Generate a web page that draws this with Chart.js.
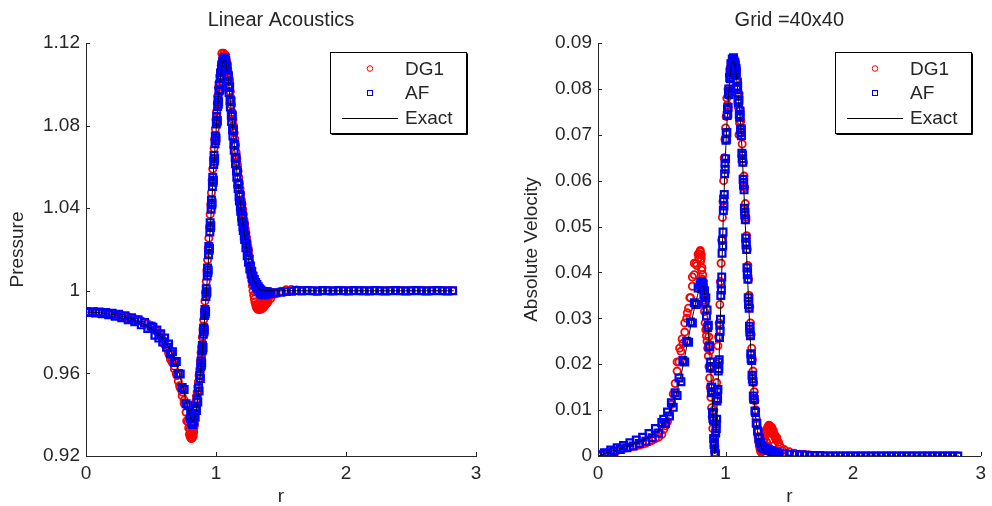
<!DOCTYPE html>
<html><head><meta charset="utf-8">
<script src="https://cdn.jsdelivr.net/npm/chart.js"></script>
<style>
html,body{margin:0;padding:0;background:#fff;}
#wrap{position:relative;width:992px;height:506px;overflow:hidden;}
.box{position:absolute;top:0;width:496px;height:506px;}
</style></head><body>
<div id="wrap">
<div class="box" style="left:0"><canvas id="c1" width="496" height="506"></canvas></div>
<div class="box" style="left:496px"><canvas id="c2" width="496" height="506"></canvas></div>
</div>
<script>
// ---------- data ----------
const radius = [0,0.025,0.05,0.075,0.1,0.125,0.15,0.175,0.2,0.225,0.25,0.275,0.3,0.325,0.35,0.375,0.4,0.425,0.45,0.475,0.5,
0.515,0.53,0.545,0.56,0.575,0.59,0.605,0.62,0.635,0.65,0.665,0.68,0.695,0.71,0.725,0.74,0.755,0.77,0.785,
0.8,0.805,0.81,0.815,0.82,0.825,0.83,0.835,0.84,0.845,
0.85,0.855,0.86,0.865,0.87,0.875,0.88,0.885,0.89,0.895,
0.9,0.905,0.91,0.915,0.92,0.925,0.93,0.935,0.94,0.945,
0.95,0.955,0.96,0.965,0.97,0.975,0.98,0.985,0.99,0.995,
1,1.005,1.01,1.015,1.02,1.025,1.03,1.035,1.04,1.045,
1.05,1.055,1.06,1.065,1.07,1.075,1.08,1.085,1.09,1.095,
1.1,1.105,1.11,1.115,1.12,1.125,1.13,1.135,1.14,1.145,
1.15,1.155,1.16,1.165,1.17,1.175,1.18,1.185,1.19,1.195,
1.2,1.205,1.21,1.215,1.22,1.225,1.23,1.235,1.24,1.245,
1.25,1.255,1.26,1.265,1.27,1.275,1.28,1.285,1.29,1.295,
1.3,1.305,1.31,1.315,1.32,1.325,1.33,1.335,1.34,1.345,
1.35,1.355,1.36,1.365,1.37,1.375,1.38,1.385,1.39,1.395,
1.4,
1.42,1.46,1.5,1.54,1.58,1.62,1.66,1.7,1.74,1.78,
1.82,1.86,1.9,1.94,1.98,2.02,2.06,2.1,2.14,2.18,
2.22,2.26,2.3,2.34,2.38,2.42,2.46,2.5,2.54,2.58,
2.62,2.66,2.7,2.74,2.78,2.82];

const afPressure = [0.9898,0.9895,0.9898,0.9893,0.9897,0.9889,0.9895,0.9884,0.9891,0.9877,0.9886,0.9870,0.9879,0.9860,0.9870,0.9850,0.9860,0.9835,0.9846,0.9818,0.9828,
0.9823,0.9785,0.9810,0.9771,0.9792,0.9752,0.9771,0.9727,0.9742,0.9695,0.9705,0.9653,0.9658,0.9599,0.9597,0.9532,0.9522,0.9453,0.9443,
0.9380,0.9402,0.9362,0.9390,0.9352,0.9386,0.9365,0.9405,0.9388,0.9432,
0.9420,0.9475,0.9462,0.9530,0.9515,0.9590,0.9575,0.9660,0.9650,0.9735,
0.9725,0.9820,0.9810,0.9910,0.9900,1.0010,0.9995,1.0110,1.0100,1.0215,
1.0205,1.0330,1.0315,1.0440,1.0425,1.0550,1.0535,1.0655,1.0640,1.0750,
1.0740,1.0845,1.0825,1.0925,1.0915,1.0995,1.0975,1.1055,1.1040,1.1095,
1.1070,1.1120,1.1105,1.1130,1.1090,1.1115,1.1070,1.1085,1.1015,1.1040,
1.0960,1.0985,1.0890,1.0915,1.0820,1.0845,1.0750,1.0775,1.0680,1.0705,
1.0615,1.0640,1.0550,1.0575,1.0495,1.0515,1.0435,1.0460,1.0385,1.0410,
1.0335,1.0360,1.0292,1.0315,1.0248,1.0270,1.0208,1.0228,1.0170,1.0190,
1.0138,1.0152,1.0105,1.0120,1.0080,1.0095,1.0058,1.0072,1.0042,1.0055,
1.0030,1.0040,1.0018,1.0030,1.0008,1.0020,0.9998,1.0010,0.9990,1.0004,
0.9985,0.9998,0.9982,0.9995,0.9980,0.9993,0.9982,0.9995,0.9985,0.9996,
0.9988,
0.9987,0.9990,0.9993,0.9996,0.9998,1.0001,0.9999,1.0002,1.0000,0.9998,
1.0001,1.0000,0.9999,1.0001,1.0000,0.9999,1.0001,1.0000,1.0000,0.9999,
1.0001,1.0000,0.9999,1.0000,1.0001,1.0000,0.9999,1.0000,1.0001,1.0000,
0.9999,1.0000,1.0001,1.0000,0.9999,1.0000];

const dgPressure = [0.9899,0.9900,0.9894,0.9900,0.9891,0.9896,0.9888,0.9893,0.9883,0.9888,0.9876,0.9882,0.9868,0.9874,0.9858,0.9865,0.9860,0.9855,0.9848,0.9840,0.9832,
0.9825,0.9812,0.9808,0.9795,0.9786,0.9762,0.9738,0.9720,0.9700,0.9668,0.9652,0.9621,0.9598,0.9562,0.9530,0.9491,0.9455,0.9412,0.9365,
0.9330,0.9300,0.9285,0.9305,0.9320,0.9298,0.9335,0.9352,0.9440,0.9465,
0.9490,0.9510,0.9535,0.9560,0.9590,0.9620,0.9660,0.9700,0.9730,0.9775,
0.9815,0.9860,0.9905,0.9950,0.9995,1.0045,1.0100,1.0150,1.0205,1.0255,
1.0310,1.0370,1.0420,1.0475,1.0535,1.0590,1.0640,1.0690,1.0735,1.0785,
1.0830,1.0870,1.0910,1.0945,1.0985,1.1010,1.1040,1.1065,1.1090,1.1105,
1.1120,1.1135,1.1150,1.1140,1.1130,1.1125,1.1115,1.1095,1.1075,1.1050,
1.1030,1.1000,1.0965,1.0935,1.0900,1.0865,1.0830,1.0800,1.0765,1.0735,
1.0705,1.0670,1.0640,1.0610,1.0580,1.0550,1.0520,1.0495,1.0470,1.0440,
1.0420,1.0395,1.0370,1.0345,1.0325,1.0300,1.0280,1.0258,1.0235,1.0215,
1.0195,1.0170,1.0140,1.0110,1.0080,1.0050,1.0025,1.0000,0.9978,0.9960,
0.9945,0.9932,0.9922,0.9915,0.9912,0.9911,0.9910,0.9910,0.9911,0.9912,
0.9913,0.9915,0.9917,0.9920,0.9924,0.9928,0.9932,0.9936,0.9940,0.9944,
0.9948,
0.9962,0.9985,0.9998,1.0005,1.0006,1.0004,1.0002,1.0001,1.0000,1.0000,
1.0000,1.0000,1.0000,1.0000,1.0000,1.0000,1.0000,1.0000,1.0000,1.0000,
1.0000,1.0000,1.0000,1.0000,1.0000,1.0000,1.0000,1.0000,1.0000,1.0000,
1.0000,1.0000,1.0000,1.0000,1.0000,1.0000];

const afVelocity = [0.0002,0.0003,0.0007,0.0006,0.0013,0.0010,0.0018,0.0014,0.0023,0.0018,0.0029,0.0022,0.0035,0.0027,0.0041,0.0032,0.0049,0.0040,0.0060,0.0050,0.0073,
0.0080,0.0071,0.0096,0.0087,0.0116,0.0106,0.0138,0.0132,0.0170,0.0162,0.0208,0.0205,0.0250,0.0248,0.0292,0.0290,0.0334,0.0330,0.0366,
0.0372,0.0378,0.0365,0.0380,0.0368,0.0375,0.0352,0.0360,0.0335,0.0345,
0.0305,0.0318,0.0280,0.0285,0.0238,0.0240,0.0192,0.0195,0.0138,0.0140,
0.0082,0.0078,0.0025,0.0015,0.0005,0.0070,0.0080,0.0140,0.0145,0.0205,
0.0210,0.0285,0.0298,0.0375,0.0390,0.0470,0.0488,0.0560,0.0570,0.0638,
0.0648,0.0702,0.0705,0.0755,0.0760,0.0800,0.0795,0.0835,0.0830,0.0852,
0.0842,0.0860,0.0850,0.0862,0.0840,0.0852,0.0832,0.0835,0.0800,0.0805,
0.0770,0.0775,0.0738,0.0742,0.0705,0.0698,0.0648,0.0640,0.0590,0.0580,
0.0525,0.0515,0.0460,0.0450,0.0395,0.0385,0.0330,0.0322,0.0270,0.0262,
0.0212,0.0208,0.0168,0.0162,0.0125,0.0123,0.0098,0.0095,0.0072,0.0071,
0.0055,0.0053,0.0040,0.0038,0.0030,0.0029,0.0022,0.0021,0.0019,0.0018,
0.0017,0.0016,0.0016,0.0015,0.0015,0.0014,0.0014,0.0013,0.0013,0.0012,
0.0012,0.0011,0.0011,0.0010,0.0010,0.0009,0.0009,0.0008,0.0008,0.0008,
0.0007,
0.0006,0.0005,0.0004,0.0003,0.0002,0.0002,0.0001,0.0001,0.0001,0,
0,0,0,0,0,0,0,0,0,0,
0,0,0,0,0,0,0,0,0,0,
0,0,0,0,0,0];

const dgVelocity = [0.0000,0.0001,0.0004,0.0005,0.0008,0.0010,0.0012,0.0014,0.0016,0.0018,0.0019,0.0021,0.0022,0.0024,0.0026,0.0028,0.0031,0.0034,0.0038,0.0041,0.0047,
0.0058,0.0066,0.0075,0.0087,0.0112,0.0135,0.0158,0.0185,0.0205,0.0228,0.0245,0.0270,0.0300,0.0322,0.0345,0.0370,0.0395,0.0420,0.0440,
0.0445,0.0425,0.0438,0.0410,0.0395,0.0370,0.0340,0.0315,0.0290,0.0275,
0.0262,0.0250,0.0235,0.0218,0.0195,0.0170,0.0150,0.0128,0.0105,0.0085,
0.0060,0.0040,0.0022,0.0008,0.0045,0.0120,0.0160,0.0200,0.0240,0.0260,
0.0290,0.0330,0.0380,0.0420,0.0470,0.0520,0.0555,0.0600,0.0650,0.0690,
0.0715,0.0740,0.0780,0.0765,0.0800,0.0785,0.0830,0.0845,0.0825,0.0860,
0.0845,0.0865,0.0862,0.0850,0.0835,0.0855,0.0820,0.0845,0.0790,0.0815,
0.0760,0.0790,0.0725,0.0755,0.0730,0.0715,0.0680,0.0655,0.0640,0.0610,
0.0585,0.0550,0.0515,0.0480,0.0450,0.0415,0.0385,0.0350,0.0325,0.0290,
0.0265,0.0235,0.0210,0.0185,0.0160,0.0140,0.0120,0.0100,0.0082,0.0068,
0.0055,0.0042,0.0030,0.0022,0.0015,0.0010,0.0008,0.0012,0.0018,0.0025,
0.0032,0.0038,0.0044,0.0050,0.0055,0.0058,0.0062,0.0065,0.0067,0.0066,
0.0064,0.0061,0.0058,0.0055,0.0052,0.0049,0.0046,0.0043,0.0040,0.0037,
0.0034,
0.0024,0.0014,0.0009,0.0006,0.0004,0.0003,0.0002,0.0001,0.0001,0,
0,0,0,0,0,0,0,0,0,0,
0,0,0,0,0,0,0,0,0,0,
0,0,0,0,0,0];

// additional AF nodes in the steep part of the pulse
const afExtraRadius = [0.8825,0.8875,0.8925,0.8975,
0.9025,0.9075,0.9125,0.9175,0.9225,0.9275,0.9325,0.9375,0.9425,0.9475,
0.9525,0.9575,0.9625,0.9675,0.9725,0.9775,0.9825,0.9875,0.9925,0.9975,
1.0025,1.0075,1.0125,1.0175,1.0225,1.0275,1.0325,1.0375,1.0425,1.0475,
1.0525,1.0575,1.0625,1.0675,1.0725,1.0775,1.0825,1.0875,1.0925,1.0975,
1.1025,1.1075,1.1125,1.1175,1.1225,1.1275,1.1325,1.1375,1.1425,1.1475,
1.1525,1.1575,1.1625,1.1675,1.1725,1.1775,1.1825,1.1875,1.1925,1.1975,
1.2025,1.2075,1.2125,1.2175];
const afExtraPressure = [0.9632,0.9640,0.9708,0.9716,
0.9790,0.9800,0.9880,0.9890,0.9972,0.9988,1.0072,1.0088,1.0175,1.0196,
1.0285,1.0306,1.0395,1.0416,1.0505,1.0526,1.0612,1.0628,1.0712,1.0728,
1.0808,1.0818,1.0893,1.0903,1.0968,1.0972,1.1028,1.1032,1.1080,1.1070,
1.1110,1.1100,1.1128,1.1097,1.1112,1.1080,1.1092,1.1038,1.1045,1.0986,
1.0990,1.0920,1.0920,1.0850,1.0850,1.0780,1.0780,1.0710,1.0710,1.0645,
1.0645,1.0580,1.0582,1.0518,1.0522,1.0458,1.0465,1.0406,1.0415,1.0356,
1.0366,1.0310,1.0321,1.0265];
const afExtraVelocity = [0.0205,0.0150,0.0150,0.0095,
0.0092,0.0038,0.0030,0.0002,0.0050,0.0060,0.0120,0.0125,0.0185,0.0190,
0.0258,0.0272,0.0350,0.0362,0.0442,0.0458,0.0535,0.0545,0.0615,0.0625,
0.0688,0.0690,0.0742,0.0745,0.0790,0.0788,0.0825,0.0822,0.0855,0.0838,
0.0865,0.0848,0.0868,0.0843,0.0858,0.0833,0.0845,0.0806,0.0815,0.0776,
0.0784,0.0744,0.0752,0.0711,0.0713,0.0660,0.0656,0.0603,0.0596,0.0540,
0.0531,0.0475,0.0466,0.0410,0.0401,0.0345,0.0337,0.0283,0.0277,0.0223,
0.0221,0.0176,0.0175,0.0131];

// additional DG1 nodes (DG1 has more nodes than AF in the scattered regions)
const dgExtraRadius   = [0.62,0.64,0.66,0.68,0.70,0.72,0.74,0.755,0.775,0.79,0.795,0.802,0.808,0.812,0.818,0.822,0.828,0.868,0.878,0.888,0.898,0.908,1.02,1.045,1.075,1.105,1.16,1.322,1.335,1.348,1.362,1.375,1.388,1.402,1.415,1.43,1.445];
const dgExtraPressure = [0.9725,0.9690,0.9660,0.9635,0.9590,0.9540,0.9510,0.9470,0.9370,0.9335,0.9305,0.9292,0.9310,0.9335,0.9288,0.9345,0.9315,0.9560,0.9605,0.9680,0.9745,0.9830,1.0915,1.1150,1.1140,1.1020,1.0625,0.9935,0.9940,0.9925,0.9935,0.9950,0.9960,0.9968,0.9975,0.9985,0.9992];
const dgExtraVelocity = [0.0205,0.0235,0.0255,0.0290,0.0312,0.0345,0.0390,0.0420,0.0415,0.0432,0.0440,0.0448,0.0430,0.0405,0.0385,0.0360,0.0330,0.0260,0.0230,0.0190,0.0150,0.0100,0.0760,0.0850,0.0860,0.0700,0.0520,0.0030,0.0020,0.0035,0.0062,0.0055,0.0045,0.0040,0.0030,0.0020,0.0012];

// exact solution
const exactRadius   = [0,0.1,0.2,0.3,0.4,0.5,0.55,0.6,0.65,0.7,0.75,0.78,0.8,0.82,0.84,0.86,0.88,0.9,0.915,0.93,0.95,0.97,0.98,1.0,1.02,1.04,1.06,1.08,1.1,1.12,1.14,1.16,1.18,1.2,1.22,1.24,1.26,1.28,1.3,1.33,1.36,1.5,2.0,2.83];
const exactPressure = [0.9897,0.9894,0.9886,0.9873,0.9852,0.9817,0.9792,0.976,0.971,0.9635,0.952,0.944,0.9395,0.937,0.94,0.948,0.96,0.975,0.9885,1.003,1.024,1.046,1.057,1.077,1.094,1.106,1.112,1.109,1.099,1.085,1.071,1.058,1.046,1.036,1.027,1.019,1.012,1.007,1.004,1.001,1.0,1.0,1.0,1.0];
const exactVelocity = [0,0.001,0.0019,0.0029,0.0042,0.0064,0.009,0.0123,0.0175,0.0245,0.0315,0.035,0.0366,0.037,0.0345,0.029,0.0205,0.0095,0.0005,0.009,0.022,0.04,0.05,0.066,0.077,0.084,0.086,0.084,0.078,0.0715,0.06,0.047,0.034,0.022,0.013,0.0075,0.004,0.002,0.001,0.0003,0,0,0,0];

// ticks
const xTicks = [0,1,2,3];
const pressureTicks = [0.92,0.96,1,1.04,1.08,1.12];
const velocityTicks = [0,0.01,0.02,0.03,0.04,0.05,0.06,0.07,0.08,0.09];

// ---------- drawing ----------
const FONT = "'Liberation Sans', Arial, Helvetica, sans-serif";
const INK = '#262626';

function pts(xs, ys){ const out=[]; const n=Math.min(xs.length, ys.length); for(let i=0;i<n;i++) out.push({x:xs[i], y:ys[i]}); return out; }

const insideTicks = {
  id:'insideTicks',
  afterDatasetsDraw(chart){
    const ctx=chart.ctx, a=chart.chartArea, L=4;
    const xs=chart.scales.x, ys=chart.scales.y;
    ctx.save(); ctx.strokeStyle=INK; ctx.lineWidth=1;
    ctx.beginPath();
    xs.ticks.forEach(t=>{const px=Math.round(xs.getPixelForValue(t.value))+0.5; ctx.moveTo(px,a.bottom); ctx.lineTo(px,a.bottom-L);});
    ys.ticks.forEach(t=>{const py=Math.round(ys.getPixelForValue(t.value))+0.5; ctx.moveTo(a.left,py); ctx.lineTo(a.left+L,py);});
    ctx.stroke(); ctx.restore();
  }
};

const boxLegend = {
  id:'boxLegend',
  afterDraw(chart){
    const ctx=chart.ctx, a=chart.chartArea;
    const W=136,H=81; const R=Math.round(a.right)-10, L=R-W, T=Math.round(a.top)+9;
    ctx.save();
    ctx.fillStyle='#fff'; ctx.fillRect(L,T,W,H);
    ctx.strokeStyle='#000'; ctx.lineWidth=1; ctx.strokeRect(L+0.5,T+0.5,W,H);
    ctx.beginPath(); ctx.moveTo(L+1.5,T+H+1.5); ctx.lineTo(L+W+1.5,T+H+1.5); ctx.lineTo(L+W+1.5,T+1.5); ctx.stroke();
    const rows=[T+16.5,T+41,T+65.5];
    ctx.font='19px '+FONT; ctx.textBaseline='middle'; ctx.textAlign='left';
    chart.data.datasets.forEach((d,i)=>{
      const y=rows[i];
      ctx.lineWidth=1;
      if(d.showLine){
        ctx.strokeStyle=d.borderColor; ctx.beginPath(); ctx.moveTo(L+12,Math.round(y)+0.5); ctx.lineTo(L+68,Math.round(y)+0.5); ctx.stroke();
      } else if(d.pointStyle==='rect'){
        ctx.strokeStyle=d.pointBorderColor; ctx.strokeRect(L+37.5,Math.round(y)-2.5,5,5);
      } else {
        ctx.strokeStyle=d.pointBorderColor; ctx.beginPath(); ctx.arc(L+40,y,2.8,0,Math.PI*2); ctx.stroke();
      }
      ctx.fillStyle=INK; ctx.fillText(d.label, L+75, y+1);
    });
    ctx.restore();
  }
};

function makeChart(id, title, yTitle, yTicks, yMin, yMax, yWidth, yTitlePad, rightPad, dgVals, dgExtraVals, afVals, afExtraVals, exactVals){
  return new Chart(document.getElementById(id), {
    type:'scatter',
    data:{ datasets:[
      {label:'DG1', data: pts(radius, dgVals).concat(pts(dgExtraRadius, dgExtraVals)), showLine:false,
       pointStyle:'circle', pointRadius:3.6, pointBorderWidth:1.8, borderWidth:1.8,
       pointBorderColor:'#ff0000', borderColor:'#ff0000', pointBackgroundColor:'rgba(0,0,0,0)', backgroundColor:'rgba(0,0,0,0)', order:3},
      {label:'AF', data: pts(radius, afVals).concat(pts(afExtraRadius, afExtraVals)), showLine:false,
       pointStyle:'rect', pointRadius:4.8, pointBorderWidth:2.2, borderWidth:2.2,
       pointBorderColor:'#0000ff', borderColor:'#0000ff', pointBackgroundColor:'rgba(0,0,0,0)', backgroundColor:'rgba(0,0,0,0)', order:2},
      {label:'Exact', data: pts(exactRadius, exactVals), showLine:true, borderColor:'#000000', borderWidth:1,
       pointRadius:0, cubicInterpolationMode:'monotone', fill:false, order:1}
    ]},
    options:{
      responsive:false, animation:false, devicePixelRatio:1,
      layout:{ padding:{left:0, right:rightPad, top:0, bottom:0} },
      plugins:{
        legend:{display:false}, tooltip:{enabled:false},
        title:{display:true, text:title, fullSize:false, color:INK, font:{family:FONT, size:20, weight:'normal', lineHeight:1.2}, padding:{top:8, bottom:11}}
      },
      scales:{
        x:{ type:'linear', min:0, max:3,
            afterBuildTicks:s=>{ s.ticks = xTicks.map(v=>({value:v})); },
            afterFit:s=>{ s.height = 50; },
            ticks:{ color:INK, font:{family:FONT, size:19}, padding:6, maxRotation:0, autoSkip:false, callback:v=>String(v) },
            grid:{ drawOnChartArea:false, drawTicks:false },
            border:{ display:true, color:INK, width:1 },
            title:{ display:true, text:'r', color:INK, font:{family:FONT, size:19, lineHeight:1}, padding:{top:0, bottom:0} } },
        y:{ type:'linear', min:yMin, max:yMax,
            afterBuildTicks:s=>{ s.ticks = yTicks.map(v=>({value:v})); },
            afterFit:s=>{ s.width = yWidth; },
            ticks:{ color:INK, font:{family:FONT, size:19}, padding:6, autoSkip:false, callback:v=>String(v) },
            grid:{ drawOnChartArea:false, drawTicks:false },
            border:{ display:true, color:INK, width:1 },
            title:{ display:true, text:yTitle, color:INK, font:{family:FONT, size:19, lineHeight:1.2}, padding:{top:yTitlePad, bottom:0} } }
      }
    },
    plugins:[insideTicks, boxLegend]
  });
}

makeChart('c1', 'Linear Acoustics', 'Pressure', pressureTicks, 0.92, 1.12, 86, 6, 20, dgPressure, dgExtraPressure, afPressure, afExtraPressure, exactPressure);
makeChart('c2', 'Grid =40x40', 'Absolute Velocity', velocityTicks, 0, 0.09, 102, 24, 4, dgVelocity, dgExtraVelocity, afVelocity, afExtraVelocity, exactVelocity);
</script>
</body></html>
